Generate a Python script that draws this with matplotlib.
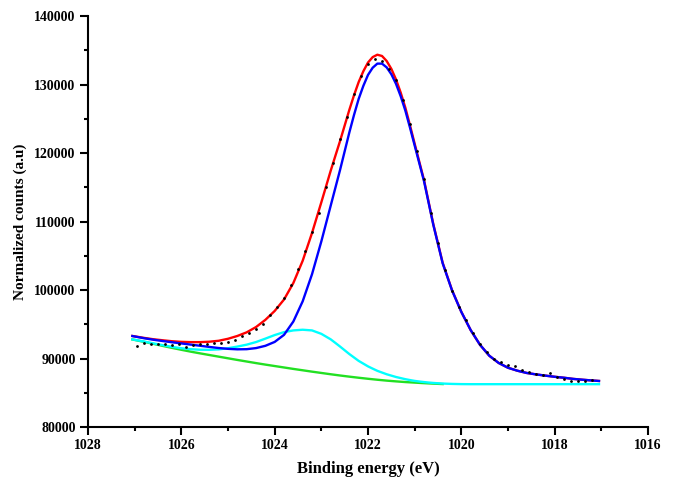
import matplotlib.pyplot as plt
from matplotlib.ticker import MultipleLocator

# binding energy grid of the fitted curves (eV), finer around the peak top
energy = [1027.05, 1026.8, 1026.6, 1026.4, 1026.2, 1026.0, 1025.8, 1025.6, 1025.4, 1025.2,
          1025.0, 1024.8, 1024.6, 1024.4, 1024.2, 1024.0, 1023.8, 1023.6, 1023.4, 1023.2,
          1023.0, 1022.8, 1022.7, 1022.6, 1022.5, 1022.4, 1022.3, 1022.2, 1022.1, 1022.0,
          1021.9, 1021.8, 1021.7, 1021.6, 1021.5, 1021.4, 1021.3, 1021.2, 1021.1, 1021.0,
          1020.9, 1020.8, 1020.7, 1020.6, 1020.4, 1020.2, 1020.0, 1019.8, 1019.6, 1019.4,
          1019.2, 1019.0, 1018.8, 1018.6, 1018.4, 1018.2, 1018.0, 1017.8, 1017.6, 1017.4,
          1017.2, 1017.05]

# envelope (red)
envelope = [93290, 93010, 92810, 92660, 92520, 92430, 92390, 92390, 92450, 92590,
            92880, 93290, 93820, 94590, 95640, 96940, 98610, 101020, 104270, 108320,
            112810, 117400, 119570, 121730, 124015, 126300, 128430, 130360, 131935, 133210,
            134000, 134350, 134165, 133430, 132285, 130740, 128830, 126620, 124030, 121350,
            118700, 116060, 112825, 109600, 103970, 99990, 96810, 94150, 92000, 90400,
            89350, 88650, 88220, 87890, 87680, 87500, 87330, 87190, 87020, 86900,
            86790, 86720]

# main component + background (blue)
main_peak = [93280, 92960, 92740, 92550, 92370, 92200, 92030, 91860, 91690, 91530,
             91410, 91340, 91360, 91520, 91850, 92420, 93450, 95400, 98350, 102300,
             107100, 112300, 114900, 117500, 120250, 123000, 125550, 127900, 129800, 131400,
             132450, 133050, 133050, 132500, 131500, 130100, 128300, 126200, 123700, 121100,
             118500, 115900, 112700, 109500, 103900, 99950, 96800, 94150, 92000, 90400,
             89350, 88650, 88220, 87890, 87680, 87500, 87330, 87190, 87020, 86900,
             86790, 86720]

# second component + background (cyan)
second_peak = [92790, 92480, 92210, 91950, 91700, 91500, 91360, 91280, 91270, 91330,
               91500, 91740, 92020, 92400, 92900, 93420, 93850, 94100, 94200, 94100,
               93600, 92800, 92280, 91750, 91200, 90650, 90150, 89650, 89250, 88850,
               88520, 88200, 87950, 87700, 87500, 87300, 87140, 86980, 86850, 86730,
               86640, 86560, 86490, 86430, 86340, 86290, 86260, 86250, 86250, 86250,
               86250, 86250, 86250, 86250, 86250, 86250, 86250, 86250, 86250, 86250,
               86250, 86250]

# background (green), ends at 1020.4 eV
background = [92780, 92430, 92140, 91840, 91550, 91270, 91000, 90750, 90510, 90270,
              90030, 89790, 89560, 89330, 89110, 88900, 88690, 88480, 88280, 88080,
              87890, 87700, 87610, 87520, 87435, 87350, 87270, 87190, 87115, 87040,
              86970, 86900, 86835, 86770, 86715, 86660, 86610, 86560, 86520, 86480,
              86440, 86400, 86365, 86330, 86270]

# measured points (black dots)
dot_energy = [1026.95, 1026.8, 1026.65, 1026.5, 1026.35, 1026.2, 1026.05, 1025.9, 1025.75, 1025.6,
              1025.45, 1025.3, 1025.15, 1025.0, 1024.85, 1024.7, 1024.55, 1024.4, 1024.25, 1024.1,
              1023.95, 1023.8, 1023.65, 1023.5, 1023.35, 1023.2, 1023.05, 1022.9, 1022.75, 1022.6,
              1022.45, 1022.3, 1022.15, 1022.0, 1021.85, 1021.7, 1021.55, 1021.4, 1021.25, 1021.1,
              1020.95, 1020.8, 1020.65, 1020.5, 1020.35, 1020.2, 1020.05, 1019.9, 1019.75, 1019.6,
              1019.45, 1019.3, 1019.15, 1019.0, 1018.85, 1018.7, 1018.55, 1018.4, 1018.25, 1018.1,
              1017.95, 1017.8, 1017.65, 1017.5, 1017.35, 1017.2]
dot_counts = [91800, 92300, 92100, 92150, 92050, 91950, 92050, 91650, 91900, 92050,
              92150, 92200, 92250, 92350, 92670, 93250, 93650, 94250, 95100, 96300,
              97500, 98900, 100800, 103000, 105700, 108500, 111300, 115000, 118500, 122000,
              125300, 128600, 131300, 133000, 133700, 133500, 132300, 130600, 127800, 124300,
              120300, 116200, 111300, 106800, 102900, 99900, 97500, 95600, 93700, 92100,
              90900, 89900, 89550, 89100, 88900, 88300, 88000, 87800, 87560, 87950,
              87300, 86950, 86750, 86700, 86720, 86800]

plt.rcParams['font.family'] = ['Liberation Serif', 'DejaVu Serif']
plt.rcParams['font.weight'] = 'bold'

fig = plt.figure(figsize=(6.74, 4.78), dpi=100)
ax = fig.add_axes([0.1306, 0.1067, 0.8308, 0.8598])

ax.plot(energy[:len(background)], background, color='#22e022', lw=1.7)
ax.plot(energy, second_peak, color='#00ffff', lw=1.7)
ax.plot(energy, envelope, color='#ff0000', lw=1.7)
ax.plot(energy, main_peak, color='#0000ff', lw=1.7)
ax.plot(dot_energy, dot_counts, 'o', color='black', ms=2, mew=0)

ax.set_xlim(1028, 1016)
ax.set_ylim(80000, 140000)
ax.xaxis.set_major_locator(MultipleLocator(2))
ax.xaxis.set_minor_locator(MultipleLocator(1))
ax.yaxis.set_major_locator(MultipleLocator(10000))
ax.yaxis.set_minor_locator(MultipleLocator(5000))

for s in ['top', 'right']:
    ax.spines[s].set_visible(False)
for s in ['left', 'bottom']:
    ax.spines[s].set_linewidth(1.5)

ax.tick_params(which='major', direction='out', length=6, width=1.5, labelsize=10, pad=3)
ax.tick_params(which='minor', direction='out', length=3, width=1.5)

ax.set_xlabel('Binding energy (eV)', fontsize=12, fontweight='bold', labelpad=6)
ax.set_ylabel('Normalized counts (a.u)', fontsize=11, fontweight='bold', labelpad=5)

fig.savefig('out.png', dpi=100)
